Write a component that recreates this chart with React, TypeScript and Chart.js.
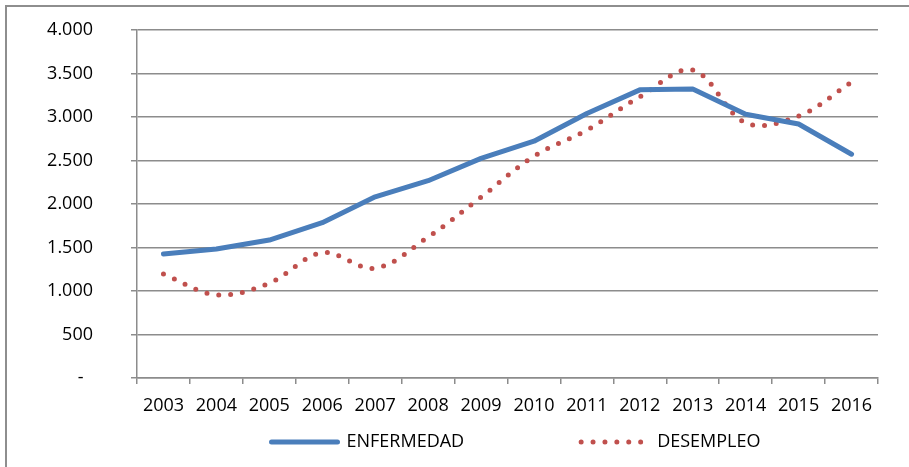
import React, { useEffect, useRef } from "react";
import { Chart, registerables } from "chart.js";

Chart.register(...registerables);

const years = ["2003", "2004", "2005", "2006", "2007", "2008", "2009", "2010", "2011", "2012", "2013", "2014", "2015", "2016"];
const enfermedad = [1425, 1482, 1586, 1785, 2082, 2268, 2525, 2722, 3040, 3312, 3322, 3032, 2920, 2572];
const desempleo = [1195, 956, 1090, 1440, 1262, 1620, 2078, 2550, 2850, 3232, 3540, 2932, 3010, 3400];
const yMin = 0;
const yMax = 4000;
const yStep = 500;
const seriesNames = ["ENFERMEDAD", "DESEMPLEO"];

const BLUE = "#4A7EBB";
const RED = "#C0504D";
const GRID = "#8c8c8c";
const FONT = '"Open Sans", "Noto Sans", sans-serif';

function fmt(v: number): string {
  if (v === 0) return "-  ";
  const s = String(Math.round(v));
  return s.replace(/\B(?=(\d{3})+(?!\d))/g, ".");
}

const legendPlugin = {
  id: "customLegend",
  afterDraw(chart: any) {
    const ctx = chart.ctx as CanvasRenderingContext2D;
    const area = chart.chartArea;
    const cx = (area.left + area.right) / 2;
    const y = chart.height - 25;
    ctx.save();
    ctx.font = `18px ${FONT}`;
    ctx.textBaseline = "middle";
    ctx.fillStyle = "#000";
    let x = cx - 236;
    ctx.beginPath();
    ctx.strokeStyle = BLUE;
    ctx.lineWidth = 5;
    ctx.lineCap = "round";
    ctx.setLineDash([]);
    ctx.moveTo(x, y);
    ctx.lineTo(x + 66, y);
    ctx.stroke();
    ctx.fillText(seriesNames[0], x + 75, y);
    const w1 = ctx.measureText(seriesNames[0]).width;
    x = x + 75 + w1 + 117;
    ctx.beginPath();
    ctx.strokeStyle = RED;
    ctx.lineWidth = 5;
    ctx.lineCap = "round";
    ctx.setLineDash([0, 11.9]);
    ctx.moveTo(x, y);
    ctx.lineTo(x + 60, y);
    ctx.stroke();
    ctx.setLineDash([]);
    ctx.fillText(seriesNames[1], x + 76, y);
    ctx.restore();
  },
};

export default function App() {
  const ref = useRef<HTMLCanvasElement | null>(null);

  useEffect(() => {
    if (!ref.current) return;
    const chart = new Chart(ref.current, {
      type: "line",
      data: {
        labels: years,
        datasets: [
          {
            label: seriesNames[0],
            data: enfermedad,
            borderColor: BLUE,
            backgroundColor: BLUE,
            borderWidth: 5,
            borderCapStyle: "round",
            borderJoinStyle: "round",
            pointRadius: 0,
            tension: 0,
            fill: false,
          },
          {
            label: seriesNames[1],
            data: desempleo,
            borderColor: RED,
            backgroundColor: RED,
            borderWidth: 5,
            borderCapStyle: "round",
            borderDash: [0, 11.9],
            pointRadius: 0,
            tension: 0.35,
            fill: false,
          },
        ],
      },
      options: {
        responsive: false,
        animation: false,
        devicePixelRatio: 1,
        layout: { padding: { left: 0, right: 31, top: 30, bottom: 49 } },
        plugins: {
          legend: { display: false },
          tooltip: { enabled: false },
        },
        scales: {
          x: {
            type: "category",
            offset: true,
            grid: {
              offset: true,
              drawOnChartArea: false,
              drawTicks: true,
              tickLength: 6,
              color: GRID,
              lineWidth: 1.5,
            },
            border: { display: true, color: GRID, width: 1.5 },
            ticks: {
              color: "#000",
              font: { family: FONT, size: 18 },
              padding: 11,
              maxRotation: 0,
              autoSkip: false,
            },
            afterFit: (s: any) => {
              s.height = 40;
              s.paddingLeft = 0;
              s.paddingRight = 0;
            },
          },
          y: {
            min: yMin,
            max: yMax,
            grid: {
              drawTicks: true,
              tickLength: 6,
              color: GRID,
              lineWidth: 1.5,
            },
            border: { display: true, color: GRID, width: 1.5 },
            ticks: {
              stepSize: yStep,
              color: "#000",
              font: { family: FONT, size: 18 },
              padding: 38,
              callback: (v: any) => fmt(Number(v)),
            },
            afterFit: (s: any) => {
              s.width = 137;
              s.paddingTop = 0;
              s.paddingBottom = 0;
            },
          },
        },
      },
      plugins: [legendPlugin],
    });
    return () => chart.destroy();
  }, []);

  return (
    <div style={{ position: "relative", width: 909, height: 467, overflow: "hidden", background: "#fff" }}>
      <style>{"html,body{margin:0;padding:0;overflow:hidden;background:#fff}"}</style>
      <div
        style={{
          position: "absolute",
          left: 5,
          top: 5,
          width: 1000,
          height: 1000,
          borderLeft: "2px solid #8e8e8e",
          borderTop: "2px solid #8e8e8e",
        }}
      />
      <canvas
        ref={ref}
        width={909}
        height={467}
        style={{ position: "absolute", left: 0, top: 0, width: 909, height: 467 }}
      />
    </div>
  );
}
